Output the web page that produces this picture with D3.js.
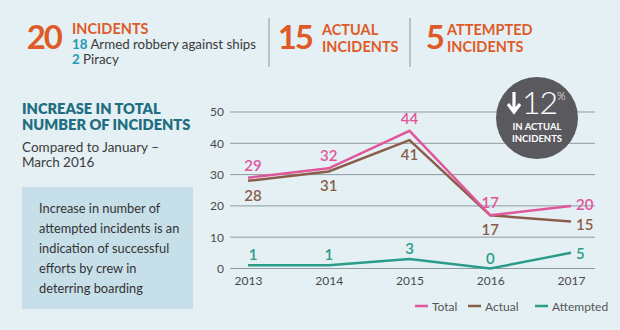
<!DOCTYPE html>
<html lang="en">
<head>
  <meta charset="UTF-8">
  <title>piracy incidents</title>
  <style>
    body {
      margin: 0;
      background: #e4f0f3;
      overflow: hidden;
    }
    svg text {
      font-family: "Lato", "Open Sans", sans-serif;
    }
  </style>
</head>
<body>
  <div class="chart"></div>
  <script src="https://cdnjs.cloudflare.com/ajax/libs/d3/7.8.5/d3.min.js"></script>
  <script>
    const years = ['2013', '2014', '2015', '2016', '2017'];
    const totalIncidents = [29, 32, 44, 17, 20];
    const actualIncidents = [28, 31, 41, 17, 15];
    const attemptedIncidents = [1, 1, 3, 0, 5];
    const yTicks = [0, 10, 20, 30, 40, 50];
    const seriesNames = ['Total', 'Actual', 'Attempted'];

    const colors = {
      Total: '#e0579b',
      Actual: '#8a5d49',
      Attempted: '#2a9c88'
    };
    const orange = '#e05a27';

    const svg = d3.select('.chart')
      .append('svg')
      .attr('width', 620)
      .attr('height', 330);

    // ---- header strip ----
    const head = svg.append('g');

    function bigNumber(txt, xEnd) {
      head.append('text').attr('x', xEnd).attr('y', 49)
        .attr('text-anchor', 'end')
        .attr('fill', orange).attr('font-size', 33).attr('font-weight', 700)
        .attr('letter-spacing', -2).text(txt);
    }
    function capsWord(txt, x0, y0) {
      head.append('text').attr('x', x0).attr('y', y0)
        .attr('fill', orange).attr('font-size', 14.5).attr('font-weight', 700)
        .text(txt);
    }

    bigNumber('20', 61);
    capsWord('INCIDENTS', 72, 34);
    const sub1 = head.append('text').attr('x', 72).attr('y', 49)
      .attr('font-size', 13.3).attr('fill', '#3a3a3a');
    sub1.append('tspan').attr('fill', '#1c9cb2').attr('font-weight', 700).text('18');
    sub1.append('tspan').text(' Armed robbery against ships');
    const sub2 = head.append('text').attr('x', 72).attr('y', 64)
      .attr('font-size', 13.3).attr('fill', '#3a3a3a');
    sub2.append('tspan').attr('fill', '#1c9cb2').attr('font-weight', 700).text('2');
    sub2.append('tspan').text(' Piracy');

    head.selectAll('line.sep')
      .data([269, 410])
      .join('line')
      .attr('class', 'sep')
      .attr('x1', d => d).attr('x2', d => d)
      .attr('y1', 18).attr('y2', 67)
      .attr('stroke', '#8d979a').attr('stroke-width', 1);

    bigNumber('15', 312);
    capsWord('ACTUAL', 322, 35);
    capsWord('INCIDENTS', 322, 52);
    bigNumber('5', 443);
    capsWord('ATTEMPTED', 447, 35);
    capsWord('INCIDENTS', 447, 52);

    // ---- left notes ----
    const notes = svg.append('g');
    ['INCREASE IN TOTAL', 'NUMBER OF INCIDENTS'].forEach((t, i) => {
      notes.append('text').attr('x', 22).attr('y', 113.5 + i * 16.5)
        .attr('fill', '#1f6e82').attr('font-size', 14.6).attr('font-weight', 800)
        .text(t);
    });
    ['Compared to January \u2013', 'March 2016'].forEach((t, i) => {
      notes.append('text').attr('x', 22).attr('y', 152 + i * 15)
        .attr('fill', '#3c3c3c').attr('font-size', 13.5)
        .text(t);
    });

    notes.append('rect')
      .attr('x', 22).attr('y', 187)
      .attr('width', 171).attr('height', 122)
      .attr('fill', '#c7dfe8');
    const boxLines = [
      'Increase in number of',
      'attempted incidents is an',
      'indication of successful',
      'efforts by crew in',
      'deterring boarding'
    ];
    notes.selectAll('text.box')
      .data(boxLines)
      .join('text')
      .attr('class', 'box')
      .attr('x', 39)
      .attr('y', (d, i) => 213 + i * 20)
      .attr('fill', '#333')
      .attr('font-size', 12.8)
      .text(d => d);

    // ---- line chart ----
    const x = d3.scalePoint()
      .domain(years)
      .range([248, 571]);

    const y = d3.scaleLinear()
      .domain([0, 50])
      .range([268.5, 112]);

    const grid = svg.append('g');
    grid.selectAll('line')
      .data(yTicks)
      .join('line')
      .attr('x1', 230).attr('x2', 595)
      .attr('y1', d => y(d)).attr('y2', d => y(d))
      .attr('stroke', '#8f9b9e').attr('stroke-width', 1);

    const yAxis = svg.append('g')
      .attr('transform', 'translate(224,0)')
      .call(d3.axisLeft(y).tickValues(yTicks).tickSize(0).tickPadding(0));
    yAxis.select('.domain').remove();
    yAxis.selectAll('text')
      .attr('font-size', 12).attr('fill', '#4a4a4a')
      .style('font-family', '"Lato", sans-serif');

    const xAxis = svg.append('g')
      .attr('transform', 'translate(0,276)')
      .call(d3.axisBottom(x).tickSize(0).tickPadding(0));
    xAxis.select('.domain').remove();
    xAxis.selectAll('text')
      .attr('font-size', 12).attr('fill', '#4a4a4a')
      .style('font-family', '"Lato", sans-serif');

    // badge sits over the top gridlines
    const badge = svg.append('g').attr('transform', 'translate(537,118)');
    badge.append('circle').attr('r', 41).attr('fill', '#5a5a5e');
    badge.append('path')
      .attr('d', 'M-23,-26 L-23,-9 M-29,-14 L-23,-6 L-17,-14')
      .attr('stroke', '#fff').attr('stroke-width', 3.2).attr('fill', 'none');
    badge.append('text').attr('x', -15).attr('y', -4)
      .attr('fill', '#fff').attr('font-size', 32).attr('font-weight', 300)
      .attr('letter-spacing', -1).text('12');
    badge.append('text').attr('x', 20).attr('y', -18)
      .attr('fill', '#fff').attr('font-size', 11).attr('font-weight', 300)
      .text('%');
    ['IN ACTUAL', 'INCIDENTS'].forEach((t, i) => {
      badge.append('text').attr('x', 0).attr('y', 12 + i * 12)
        .attr('text-anchor', 'middle')
        .attr('fill', '#fff').attr('font-size', 9.5).attr('font-weight', 700)
        .text(t);
    });

    // dy: label offset for the inner points, endDy: for the label right of the last point
    const series = [
      { name: 'Attempted', values: attemptedIncidents, dy: -5, endDy: 6 },
      { name: 'Actual', values: actualIncidents, dy: 20, endDy: 8 },
      { name: 'Total', values: totalIncidents, dy: -7, endDy: 4 }
    ];

    const line = d3.line()
      .x((v, i) => x(years[i]))
      .y(v => y(v));

    const last = years.length - 1;
    series.forEach(s => {
      svg.append('path')
        .datum(s.values)
        .attr('d', line)
        .attr('fill', 'none')
        .attr('stroke', colors[s.name])
        .attr('stroke-width', 2.5)
        .attr('stroke-linejoin', 'miter');

      svg.append('g')
        .selectAll('text')
        .data(s.values)
        .join('text')
        .attr('x', (v, i) => i === last ? x(years[i]) + 5 : x(years[i]) + (i === 0 ? 5 : 0))
        .attr('y', (v, i) => i === last ? y(v) + s.endDy : y(v) + s.dy)
        .attr('text-anchor', (v, i) => i === last ? 'start' : 'middle')
        .attr('fill', colors[s.name])
        .attr('font-size', 15)
        .attr('font-weight', 600)
        .text(v => v);
    });

    // ---- legend ----
    const legendX = [415, 468, 535];
    const legend = svg.append('g')
      .selectAll('g')
      .data(seriesNames)
      .join('g')
      .attr('transform', (d, i) => `translate(${legendX[i]},306)`);
    legend.append('line')
      .attr('x1', 0).attr('x2', 13)
      .attr('stroke', d => colors[d]).attr('stroke-width', 2.5);
    legend.append('text')
      .attr('x', 17).attr('y', 4.5)
      .attr('fill', '#555').attr('font-size', 12)
      .text(d => d);
  </script>
</body>
</html>
